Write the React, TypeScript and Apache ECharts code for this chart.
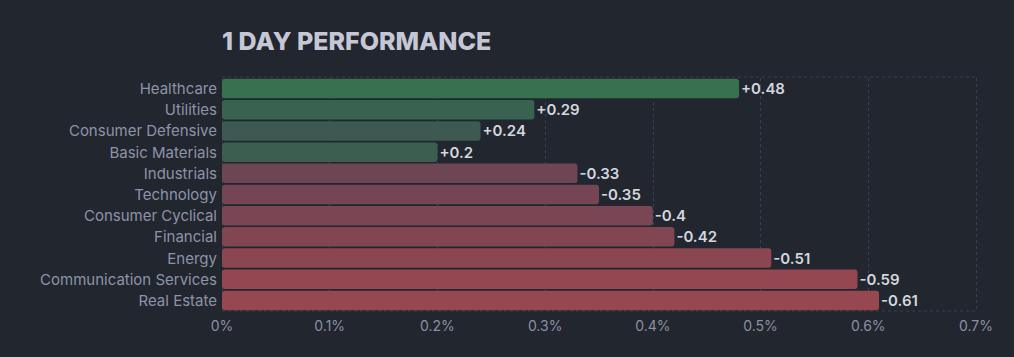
import React, { useEffect, useRef } from "react";
import * as echarts from "echarts";

const categories = [
  "Healthcare",
  "Utilities",
  "Consumer Defensive",
  "Basic Materials",
  "Industrials",
  "Technology",
  "Consumer Cyclical",
  "Financial",
  "Energy",
  "Communication Services",
  "Real Estate",
];
const changes = [0.48, 0.29, 0.24, 0.2, -0.33, -0.35, -0.4, -0.42, -0.51, -0.59, -0.61];
const barColors = [
  "#37714f",
  "#3a6250",
  "#3d5a52",
  "#3c5e51",
  "#6e4552",
  "#744653",
  "#7a4653",
  "#824653",
  "#8c4651",
  "#944750",
  "#97474f",
];
const xTicks = [0, 0.1, 0.2, 0.3, 0.4, 0.5, 0.6, 0.7];

export default function App() {
  const ref = useRef<HTMLDivElement>(null);
  useEffect(() => {
    document.body.style.margin = "0";
    document.body.style.background = "#22262f";
    if (!ref.current) return;
    const chart = echarts.init(ref.current, undefined, { renderer: "svg" });
    chart.setOption({
      animation: false,
      backgroundColor: "#22262f",
      textStyle: { fontFamily: "Inter" },
      title: {
        text: "1 DAY PERFORMANCE",
        left: 222,
        top: 28,
        padding: 0,
        textStyle: { color: "#c5c8d4", fontSize: 25, fontWeight: 800, fontFamily: "Inter" },
      },
      grid: { left: 222, right: 38, top: 78, bottom: 46, containLabel: false },
      xAxis: {
        type: "value",
        min: xTicks[0],
        max: xTicks[xTicks.length - 1],
        interval: 0.1,
        axisLine: { show: false },
        axisTick: { show: false },
        axisLabel: {
          color: "#8a90a3",
          fontSize: 14,
          margin: 7,
          formatter: (v: number) => `${Math.round(v * 10) / 10}%`,
        },
        splitLine: { show: true, lineStyle: { color: "#3a3f4b", type: [3, 3] } },
      },
      yAxis: {
        type: "category",
        data: categories,
        inverse: true,
        axisLine: { show: false },
        axisTick: { show: false },
        axisLabel: { color: "#8d93a8", fontSize: 15, margin: 5 },
        splitLine: { show: false },
      },
      graphic: [
        {
          type: "line",
          shape: { x1: 222, y1: 77, x2: 976, y2: 77 },
          style: { stroke: "#3a3f4b", lineDash: [3, 3], lineWidth: 1 },
          silent: true,
        },
        {
          type: "line",
          shape: { x1: 222, y1: 311, x2: 976, y2: 311 },
          style: { stroke: "#3a3f4b", lineDash: [3, 3], lineWidth: 1 },
          silent: true,
        },
      ],
      series: [
        {
          type: "bar",
          barCategoryGap: "8%",
          data: changes.map((v, i) => ({
            value: Math.abs(v),
            itemStyle: { color: barColors[i], borderRadius: 3 },
            label: { formatter: (v > 0 ? "+" : "") + v },
          })),
          label: {
            show: true,
            position: "right",
            distance: 2,
            color: "#d3d6de",
            fontSize: 15,
            fontWeight: 600,
            fontFamily: "Inter",
          },
        },
      ],
    });
    return () => chart.dispose();
  }, []);
  return <div ref={ref} style={{ width: 1014, height: 357 }} />;
}
